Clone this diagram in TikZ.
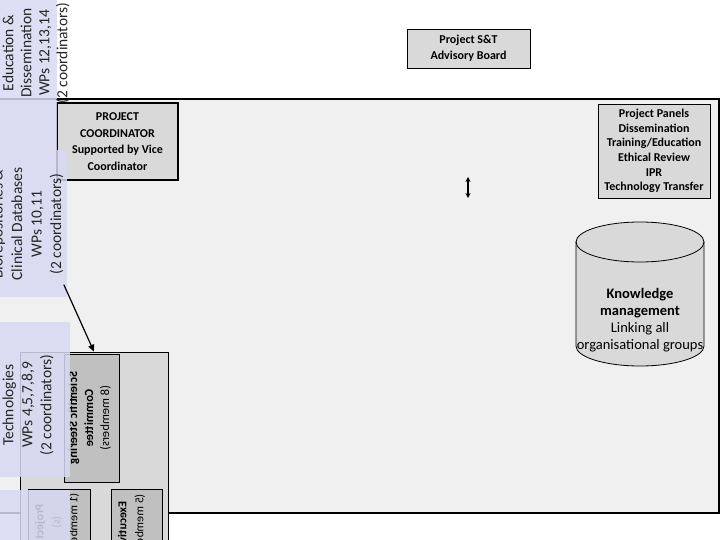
\documentclass[tikz,border=0pt]{standalone}
\usepackage{fontspec}
\setmainfont{Carlito}
\usetikzlibrary{arrows.meta}
\definecolor{bggray}{HTML}{F0F0F0}
\definecolor{boxgray}{HTML}{D9D9D9}
\definecolor{darkgray}{HTML}{C0C0C0}
\definecolor{lav}{HTML}{D8D8F2}

\begin{document}
\begin{tikzpicture}[x=1pt,y=-1pt,line cap=round,
  box/.style={draw=black,fill=boxgray,inner sep=0pt,align=center},
  lavbox/.style={fill=lav,fill opacity=0.85,inner sep=0pt},
  lavtext/.style={rotate=90,align=center,text=black!85},
  mirtext/.style={rotate=90,xscale=-1,align=center,inner sep=0pt,font=\fontsize{12.5}{16}\selectfont}]
\useasboundingbox (0,0) rectangle (720,540);
\clip (0,0) rectangle (720,540);
% background frame
\node[box,fill=bggray,line width=1.6pt,minimum width=722pt,minimum height=414pt] (org) at (358,306) {};
% top boxes
\node[box,line width=0.6pt,minimum width=123pt,minimum height=39pt,font=\fontsize{12}{16}\selectfont\bfseries] (sab) at (468.5,48.5) {\raisebox{-2pt}{Project S\&T}\\\raisebox{-2pt}{Advisory Board}};
\node[box,line width=1.6pt,minimum width=121pt,minimum height=77pt,font=\fontsize{12}{16.7}\selectfont\bfseries] (coord) at (117.5,141.5) {PROJECT\\COORDINATOR\\Supported by Vice\\Coordinator};
\node[box,line width=0.8pt,minimum width=112pt,minimum height=94pt,font=\fontsize{12}{14.6}\selectfont\bfseries] (panels) at (654,151) {Project Panels\\Dissemination\\Training/Education\\Ethical Review\\IPR\\Technology Transfer};
\coordinate (dbltop) at (468,177);
\coordinate (dblbot) at (468,198);
\draw[{Stealth[length=5pt,width=5pt]}-{Stealth[length=5pt,width=5pt]},line width=1.4pt] (dbltop) -- (dblbot);
% knowledge store
\path[draw=black,fill=boxgray,line width=0.8pt] (576,242) -- (576,346)
  arc[start angle=180,end angle=360,x radius=64pt,y radius=20pt] -- (704,242)
  arc[start angle=0,end angle=180,x radius=64pt,y radius=20pt] -- cycle;
\draw[line width=0.8pt] (576,242) arc[start angle=180,end angle=360,x radius=64pt,y radius=20pt];
\node[align=center,font=\fontsize{14.5}{17}\selectfont] (km) at (640,320.5) {\textbf{Knowledge}\\\textbf{management}\\Linking all\\organisational groups};
% committees
\node[box,fill=boxgray,line width=0.6pt,minimum width=148pt,minimum height=208pt] (comm) at (94,456) {};
\node[box,fill=darkgray,line width=0.6pt,minimum width=55pt,minimum height=128pt] (ssc) at (91.5,418) {};
\node[mirtext] (ssctxt) at (89.5,418) {\textbf{Scientific Steering}\\\textbf{Committee}\\(8 members)};
\node[box,fill=darkgray,line width=0.6pt,minimum width=51pt,minimum height=72pt] (exec) at (136.5,525) {};
\node[mirtext,anchor=west,font=\fontsize{12}{17}\selectfont] (exectxt) at (131.5,494) {\textbf{Executive}\\(5 members)};
\node[box,fill=darkgray,line width=0.6pt,minimum width=62pt,minimum height=72pt] (pmb) at (59,525) {};
\node[mirtext,anchor=west,font=\fontsize{12}{17}\selectfont] (pmbtxt) at (57,493) {\textbf{Project}\\(s)\\(1 member)};
% work package groups
\node[lavbox,minimum width=59pt,minimum height=152pt] (edu) at (27.5,74) {};
\node[lavtext,font=\fontsize{15.5}{18}\selectfont] (edutxt) at (36,53) {Education \&\\Dissemination\\WPs 12,13,14\\(2 coordinators)};
\node[lavbox,minimum width=69pt,minimum height=147pt] (clin) at (32.5,223.5) {};
\node[lavtext,font=\fontsize{15.5}{19.5}\selectfont] (clintxt) at (27.5,224) {Biorepositories \&\\Clinical Databases\\WPs 10,11\\(2 coordinators)};
\node[lavbox,minimum width=72pt,minimum height=155pt] (tech) at (34,399.5) {};
\node[lavtext,font=\fontsize{15.5}{19}\selectfont] (techtxt) at (28,405) {Technologies\\WPs 4,5,7,8,9\\(2 coordinators)};
\node[lavbox,minimum width=72pt,minimum height=55pt] (low) at (34,517.5) {};
% link
\coordinate (clinfoot) at (64,285);
\draw[-{Triangle[length=7pt,width=6pt]},line width=1.2pt] (clinfoot) -- (comm.north);
\end{tikzpicture}
\end{document}
